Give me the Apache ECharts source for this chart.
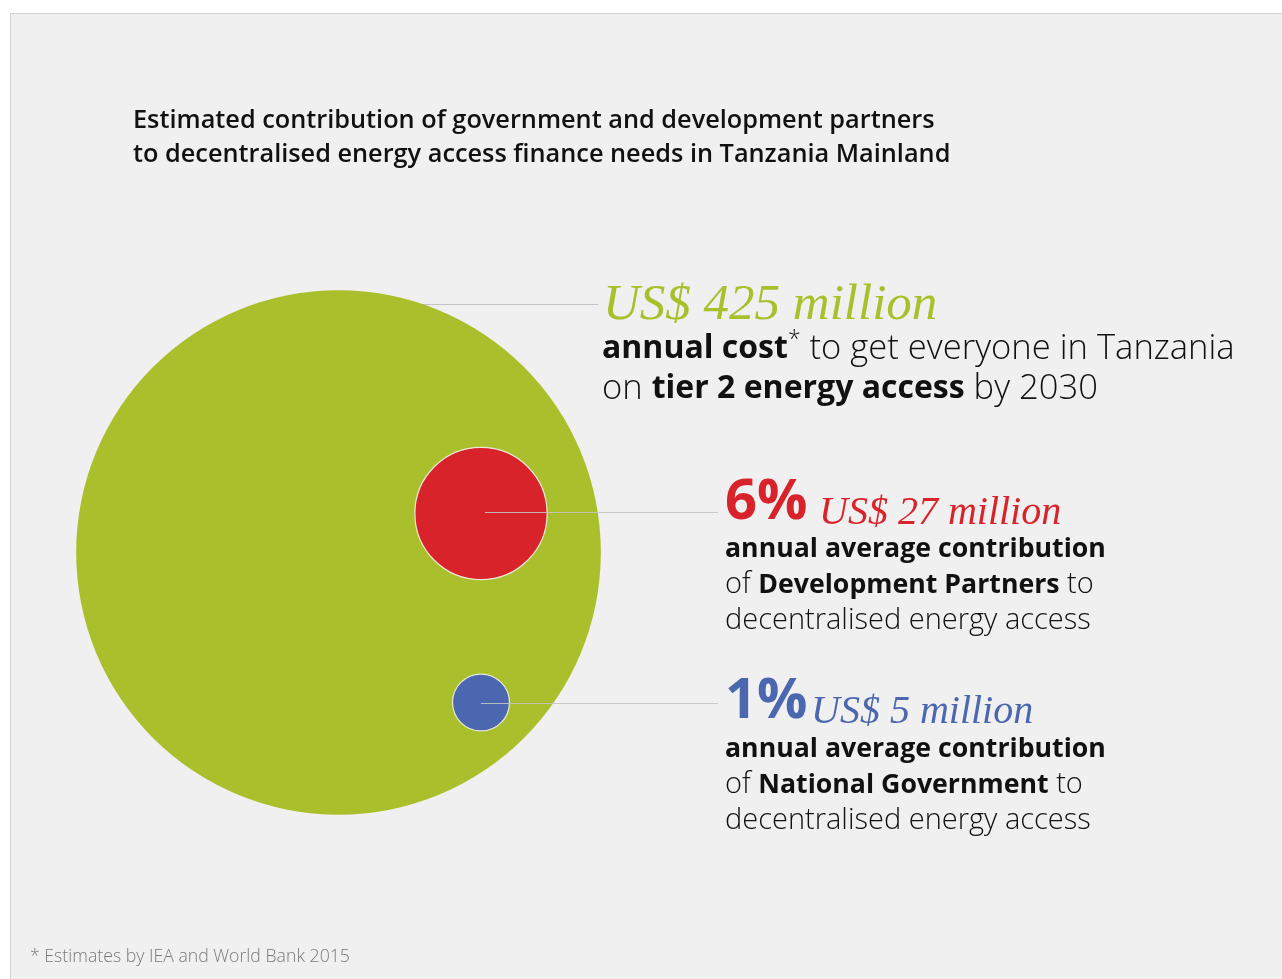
<!DOCTYPE html>
<html>
<head>
<meta charset="utf-8">
<title>Decentralised energy access finance — Tanzania Mainland</title>
<script src="https://cdn.jsdelivr.net/npm/echarts@6/dist/echarts.min.js"></script>
<style>
  html, body { margin: 0; padding: 0; background: #ffffff; }
  #chart { width: 1282px; height: 979px; }
</style>
</head>
<body>
<div id="chart"></div>
<script>
// ---- data -------------------------------------------------------------
const categories = ['Annual cost, tier 2 access by 2030', 'Development Partners', 'National Government'];
const annualUSDm = [425, 27, 5];           // US$ million per year
const footnote = '* Estimates by IEA and World Bank 2015';

// ---- styling ----------------------------------------------------------
const colors = ['#a9c02c', '#d9232a', '#4b67b0'];
const SANS = '"Open Sans", "Noto Sans", sans-serif';
const SERIF = '"Liberation Serif", "DejaVu Serif", serif';
const INK = '#111111';
const LEADER = '#c4c4c4';

// bubble area proportional to value: diameter = k * sqrt(value)
const DIAM_PER_SQRT = 25.45;

// layout (canvas-sized axes, y grows downward)
const W = 1282, H = 979;
const layout = {
  centers: [[338.5, 552.5], [481, 513.5], [481, 702.5]],
  leaderY: [304, 512, 703],
  leaderStartX: [338.5, 485, 481],
  leaderEndX: [598, 718, 718]
};

const total = annualUSDm[0];
const sharePct = annualUSDm.map(v => Math.round(v / total * 100) + '%');
const money = v => 'US$ ' + v + ' million';

const bubbleData = annualUSDm.map((v, i) => ({
  name: categories[i],
  value: [layout.centers[i][0], layout.centers[i][1], v],
  itemStyle: {
    color: colors[i],
    opacity: 1,
    borderColor: i === 0 ? 'transparent' : '#ece9d6',
    borderWidth: i === 0 ? 0 : 1.2
  }
}));

const leader = i => ({
  coords: [[layout.leaderStartX[i], layout.leaderY[i]], [layout.leaderEndX[i], layout.leaderY[i]]]
});

const bodyRich = (boldSize, lightSize, lh) => ({
  b: { fontFamily: SANS, fontWeight: 700, fontSize: boldSize, lineHeight: lh, fill: INK },
  l: { fontFamily: SANS, fontWeight: 300, fontSize: lightSize, lineHeight: lh, fill: INK },
  s: { fontFamily: SANS, fontWeight: 300, fontSize: Math.round(boldSize * 0.72), lineHeight: lh, fill: INK, verticalAlign: 'top' }
});

const chart = echarts.init(document.getElementById('chart'), null, { renderer: 'canvas' });

chart.setOption({
  backgroundColor: '#ffffff',
  animation: false,
  grid: { left: 0, right: 0, top: 0, bottom: 0 },
  xAxis: { type: 'value', min: 0, max: W, show: false },
  yAxis: { type: 'value', min: 0, max: H, inverse: true, show: false },
  graphic: [
    // panel
    { type: 'rect', z: -10, shape: { x: 10.5, y: 13.5, width: W, height: H }, style: { fill: '#f0f0f0', stroke: '#d2d2d2', lineWidth: 1 } },
    // title
    { type: 'text', x: 133, y: 104, z: 10, style: {
        text: 'Estimated contribution of government and development partners\nto decentralised energy access finance needs in Tanzania Mainland',
        fontFamily: SANS, fontWeight: 600, fontSize: 25.3, lineHeight: 34, fill: INK } },
    // total need
    { type: 'text', x: 603, y: 306, z: 10, style: {
        text: money(annualUSDm[0]), fontFamily: SERIF, fontStyle: 'italic', fontSize: 51,
        fill: colors[0], verticalAlign: 'middle' } },
    { type: 'text', x: 602, y: 329, z: 10, style: {
        text: '{b|annual cost}{s|*}{l| to get everyone in Tanzania}\n{l|on }{b|tier 2 energy access}{l| by 2030}',
        rich: bodyRich(32, 34.6, 40) } },
    // development partners
    { type: 'text', x: 725, y: 503, z: 10, style: {
        text: sharePct[1], fontFamily: SANS, fontWeight: 700, fontSize: 56, fill: colors[1], verticalAlign: 'middle' } },
    { type: 'text', x: 819, y: 513, z: 10, style: {
        text: money(annualUSDm[1]), fontFamily: SERIF, fontStyle: 'italic', fontSize: 40, fill: colors[1], verticalAlign: 'middle' } },
    { type: 'text', x: 725, y: 531, z: 10, style: {
        text: '{b|annual average contribution}\n{l|of }{b|Development Partners}{l| to}\n{l|decentralised energy access}',
        rich: bodyRich(26.7, 29, 36) } },
    // national government
    { type: 'text', x: 725, y: 702, z: 10, style: {
        text: sharePct[2], fontFamily: SANS, fontWeight: 700, fontSize: 56, fill: colors[2], verticalAlign: 'middle' } },
    { type: 'text', x: 811, y: 712, z: 10, style: {
        text: money(annualUSDm[2]), fontFamily: SERIF, fontStyle: 'italic', fontSize: 40, fill: colors[2], verticalAlign: 'middle' } },
    { type: 'text', x: 725, y: 731, z: 10, style: {
        text: '{b|annual average contribution}\n{l|of }{b|National Government}{l| to}\n{l|decentralised energy access}',
        rich: bodyRich(26.7, 29, 36) } },
    // footnote
    { type: 'text', x: 30, y: 957, z: 10, style: {
        text: footnote, fontFamily: SANS, fontWeight: 300, fontSize: 17.7, fill: '#7a7a7a', verticalAlign: 'middle' } }
  ],
  series: [
    {
      type: 'lines', coordinateSystem: 'cartesian2d', z: 1, silent: true,
      lineStyle: { color: LEADER, width: 1, opacity: 1 },
      data: [leader(0)]
    },
    {
      type: 'scatter', z: 2, silent: true,
      symbol: 'circle',
      symbolSize: v => v[2] ? DIAM_PER_SQRT * Math.sqrt(v[2]) : 0,
      itemStyle: { opacity: 1 },
      data: bubbleData
    },
    {
      type: 'lines', coordinateSystem: 'cartesian2d', z: 3, silent: true,
      lineStyle: { color: LEADER, width: 1, opacity: 0.9 },
      data: [leader(1), leader(2)]
    }
  ]
});
</script>
</body>
</html>
